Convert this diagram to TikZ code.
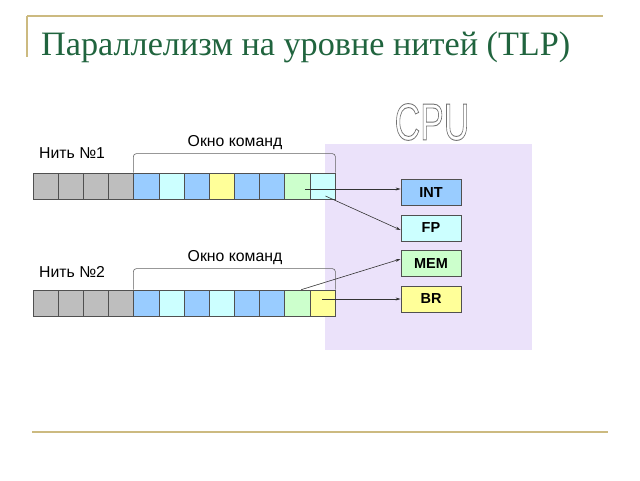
\documentclass[tikz,border=0pt]{standalone}
\usepackage{fontspec}
\setmainfont{Liberation Serif}
\newfontfamily\arial{Liberation Sans}
\usetikzlibrary{arrows.meta}
\definecolor{gold}{RGB}{204,186,128}
\definecolor{titlegreen}{RGB}{32,100,62}
\definecolor{lav}{RGB}{235,226,250}
\definecolor{cgray}{RGB}{190,190,190}
\definecolor{cblue}{RGB}{153,204,255}
\definecolor{ccyan}{RGB}{204,255,255}
\definecolor{cyel}{RGB}{255,255,153}
\definecolor{cgreen}{RGB}{204,255,204}
\definecolor{edge}{RGB}{80,80,80}
\newcommand{\outlinetext}[1]{\special{pdf:literal q 1 Tr 0.9 w 0.45 G}#1\special{pdf:literal 0 Tr Q}}
\begin{document}
\begin{tikzpicture}[x=1pt,y=-1pt,
  rule/.style={draw=gold,line width=1.6pt},
  cell/.style={draw=edge,line width=0.7pt,minimum width=25.17pt,minimum height=26pt,inner sep=0pt},
  unit/.style={draw=edge,line width=0.8pt,minimum width=60pt,minimum height=26pt,inner sep=0pt,font=\arial\bfseries\fontsize{14.5}{15}\selectfont},
  lbl/.style={font=\arial\fontsize{15.8}{16}\selectfont,inner sep=0pt},
  bracket/.style={draw=edge!90,line width=0.6pt,rounded corners=3pt},
  arr/.style={draw=black!80,line width=0.6pt,-{Stealth[length=5pt,width=3pt]}}]
\useasboundingbox (0,0) rectangle (640,480);
% frame rules
\coordinate (tl) at (27,16);
\coordinate (tr) at (603,16);
\coordinate (tv) at (27,57);
\coordinate (bl) at (32,432);
\coordinate (br2) at (608,432);
\draw[rule] (tl) -- (tr);
\draw[rule] (tl) -- (tv);
\draw[rule] (bl) -- (br2);
% title
\node[anchor=base west,text=titlegreen,font=\fontsize{34.2}{34}\selectfont,inner sep=0pt] (title) at (41,55) {Параллелизм на уровне нитей (TLP)};
% CPU box
\node[fill=lav,minimum width=207pt,minimum height=206pt,anchor=north west,inner sep=0pt] (cpubox) at (325,144) {};
\node[font=\arial\fontsize{52}{52}\selectfont,inner sep=0pt] (cpu) at (432,122) {\scalebox{0.68}[1]{\outlinetext{CPU}}};
% rows
\foreach \i/\c in {1/cgray,2/cgray,3/cgray,4/cgray,5/cblue,6/ccyan,7/cblue,8/cyel,9/cblue,10/cblue,11/cgreen,12/ccyan}
  \node[cell,fill=\c] (a\i) at ({33+25.17*(\i-0.5)},186) {};
\foreach \i/\c in {1/cgray,2/cgray,3/cgray,4/cgray,5/cblue,6/ccyan,7/cblue,8/ccyan,9/cblue,10/cblue,11/cgreen,12/cyel}
  \node[cell,fill=\c] (b\i) at ({33+25.17*(\i-0.5)},303) {};
% brackets
\draw[bracket] (a5.north west) -- ([yshift=19pt]a5.north west) -- ([yshift=19pt]a12.north east) -- (a12.north east);
\draw[bracket] (b5.north west) -- ([yshift=21pt]b5.north west) -- ([yshift=21pt]b12.north east) -- (b12.north east);
% labels
\node[lbl] (w1) at (235,143) {Окно команд};
\node[lbl] (w2) at (235,258) {Окно команд};
\node[lbl,anchor=west] (t1) at (39,153) {Нить №1};
\node[lbl,anchor=west] (t2) at (39,272) {Нить №2};
% units
\node[unit,fill=cblue] (int) at (431,192.5) {INT};
\node[unit,fill=ccyan] (fp) at (431,228) {FP};
\node[unit,fill=cgreen] (mem) at (431,263.5) {MEM};
\node[unit,fill=cyel] (br) at (431,299) {BR};
% arrows
\coordinate (s1) at ([xshift=8pt,yshift=-3pt]a11.center);
\coordinate (s2) at ([xshift=3pt,yshift=-10pt]a12.center);
\coordinate (s3) at ([xshift=4pt]b11.north);
\draw[arr] (s1) -- (s1 -| int.west);
\draw[arr] (s2) -- ([yshift=-2pt]fp.west);
\draw[arr] (s3) -- ([yshift=4.5pt]mem.west);
\draw[arr] (br.west -| b12.center) -- (br.west);
\end{tikzpicture}
\end{document}
